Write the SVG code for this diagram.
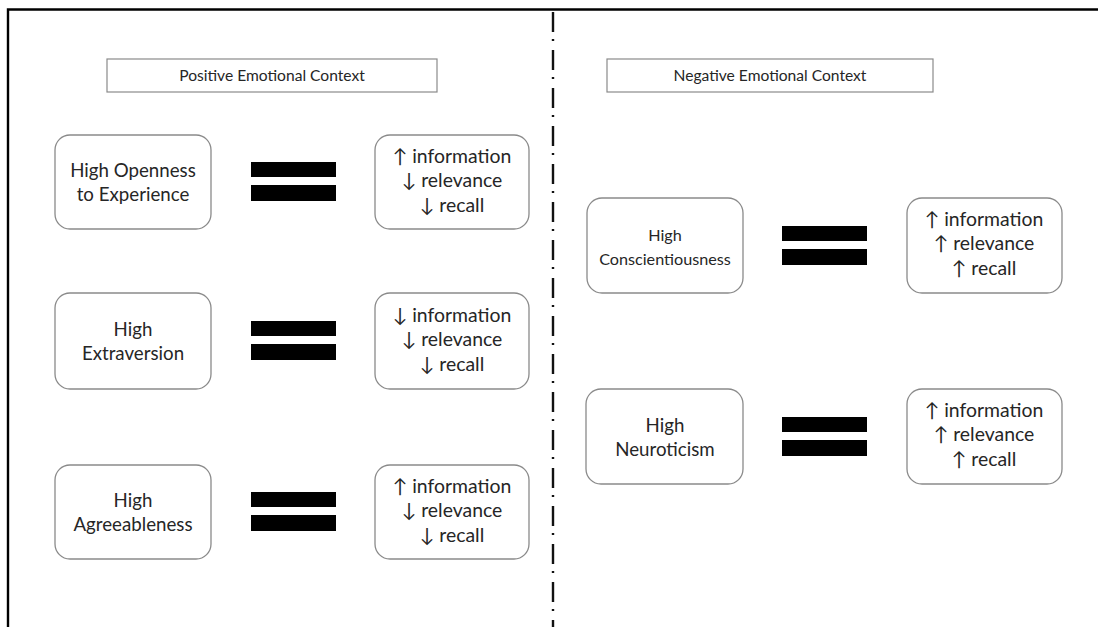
<svg xmlns="http://www.w3.org/2000/svg" width="1098" height="627" viewBox="0 0 1098 627">
  <style>
    .frame { stroke: #000; stroke-width: 2.4; fill: none; }
    .divider { stroke: #111; stroke-width: 2.4; fill: none; stroke-dasharray: 20 7 2 9; }
    .title { fill: #fff; stroke: #8a8a8a; stroke-width: 1.2; }
    .node { fill: #fff; stroke: #8a8a8a; stroke-width: 1.3; }
    .bar { fill: #000; }
    text { font-family: "Lato", "Liberation Sans", "DejaVu Sans", sans-serif; font-size: 18.7px; fill: #262626; text-anchor: middle; }
    .head { font-size: 15.6px; }
    .out { font-size: 19.4px; }
    .small { font-size: 16.2px; }
  </style>

  <!-- outer frame (top and left edges) -->
  <path class="frame" d="M8 627 V9.5 H1098"/>

  <!-- dash-dot divider between the two contexts -->
  <g id="connectors">
    <line class="divider" x1="553" y1="12" x2="553" y2="627"/>
  </g>

  <!-- section titles -->
  <g id="title-positive">
    <rect class="title" x="107" y="59" width="330" height="33"/>
    <text class="head" x="272" y="81">Positive Emotional Context</text>
  </g>
  <g id="title-negative">
    <rect class="title" x="607" y="59" width="326" height="33"/>
    <text class="head" x="770" y="81">Negative Emotional Context</text>
  </g>

  <!-- positive context: trait = outcome -->
  <g id="trait-openness">
    <rect class="node" x="55" y="135" width="156" height="94" rx="15"/>
    <text x="133" y="177">High Openness</text>
    <text x="133" y="201">to Experience</text>
  </g>
  <g id="equals-openness">
    <rect class="bar" x="251" y="162" width="85" height="15"/>
    <rect class="bar" x="251" y="185" width="85" height="16"/>
  </g>
  <g id="outcome-openness">
    <rect class="node" x="375" y="135" width="154" height="94" rx="15"/>
    <text class="out" x="452" y="163">↑ information</text>
    <text class="out" x="452" y="187">↓ relevance</text>
    <text class="out" x="452" y="212">↓ recall</text>
  </g>

  <g id="trait-extraversion">
    <rect class="node" x="55" y="293" width="156" height="96" rx="15"/>
    <text x="133" y="336">High</text>
    <text x="133" y="360">Extraversion</text>
  </g>
  <g id="equals-extraversion">
    <rect class="bar" x="251" y="321" width="85" height="15"/>
    <rect class="bar" x="251" y="344" width="85" height="16"/>
  </g>
  <g id="outcome-extraversion">
    <rect class="node" x="375" y="293" width="154" height="96" rx="15"/>
    <text class="out" x="452" y="322">↓ information</text>
    <text class="out" x="452" y="346">↓ relevance</text>
    <text class="out" x="452" y="371">↓ recall</text>
  </g>

  <g id="trait-agreeableness">
    <rect class="node" x="55" y="465" width="156" height="94" rx="15"/>
    <text x="133" y="507">High</text>
    <text x="133" y="531">Agreeableness</text>
  </g>
  <g id="equals-agreeableness">
    <rect class="bar" x="251" y="492" width="85" height="15"/>
    <rect class="bar" x="251" y="515" width="85" height="16"/>
  </g>
  <g id="outcome-agreeableness">
    <rect class="node" x="375" y="465" width="154" height="94" rx="15"/>
    <text class="out" x="452" y="493">↑ information</text>
    <text class="out" x="452" y="517">↓ relevance</text>
    <text class="out" x="452" y="542">↓ recall</text>
  </g>

  <!-- negative context: trait = outcome -->
  <g id="trait-conscientiousness">
    <rect class="node" x="587" y="198" width="156" height="95" rx="15"/>
    <text class="small" x="665" y="241">High</text>
    <text class="small" x="665" y="265">Conscientiousness</text>
  </g>
  <g id="equals-conscientiousness">
    <rect class="bar" x="782" y="226" width="85" height="15"/>
    <rect class="bar" x="782" y="249" width="85" height="16"/>
  </g>
  <g id="outcome-conscientiousness">
    <rect class="node" x="907" y="198" width="155" height="95" rx="15"/>
    <text class="out" x="984" y="226">↑ information</text>
    <text class="out" x="984" y="250">↑ relevance</text>
    <text class="out" x="984" y="275">↑ recall</text>
  </g>

  <g id="trait-neuroticism">
    <rect class="node" x="586" y="389" width="157" height="95" rx="15"/>
    <text x="665" y="432">High</text>
    <text x="665" y="456">Neuroticism</text>
  </g>
  <g id="equals-neuroticism">
    <rect class="bar" x="782" y="417" width="85" height="15"/>
    <rect class="bar" x="782" y="440" width="85" height="16"/>
  </g>
  <g id="outcome-neuroticism">
    <rect class="node" x="907" y="389" width="155" height="95" rx="15"/>
    <text class="out" x="984" y="417">↑ information</text>
    <text class="out" x="984" y="441">↑ relevance</text>
    <text class="out" x="984" y="466">↑ recall</text>
  </g>
</svg>
